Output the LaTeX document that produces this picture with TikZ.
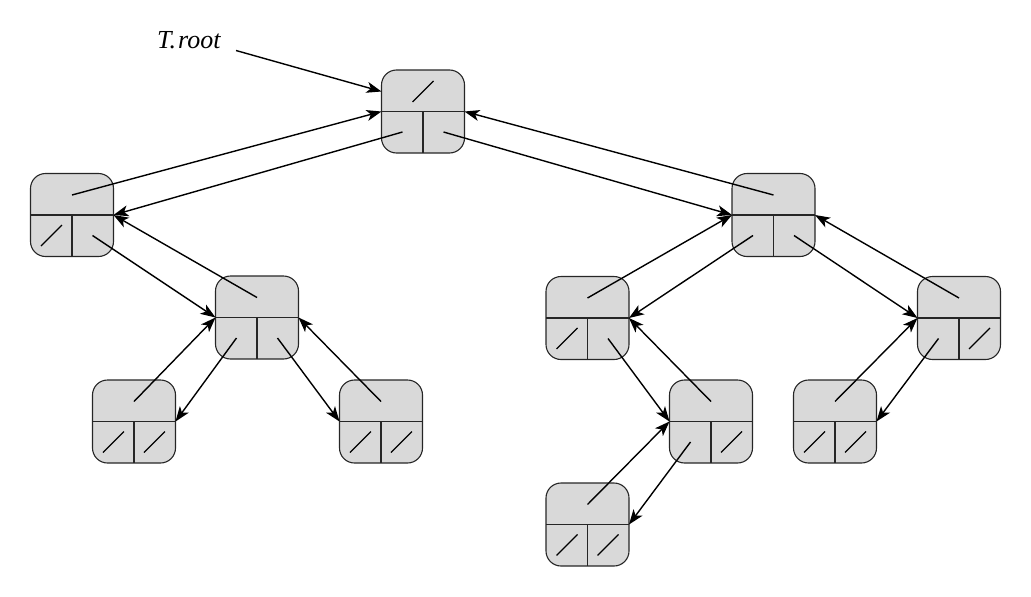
\documentclass[tikz,border=0pt]{standalone}
\usepackage{fontspec}
\setmainfont{Liberation Serif}
\usetikzlibrary{arrows.meta,calc}
\tikzset{
  x=1pt,y=1pt,
  rec/.style={draw=black!85,line width=1.1pt,fill=black!15,rounded corners=15pt,minimum width=83pt,minimum height=83pt,inner sep=0pt,outer sep=0pt},
  ptr/.style={line width=1.4pt,-{Stealth[length=15pt,width=11pt,inset=4pt]}},
  divl/.style={line width=1.1pt,black!85},
  nilline/.style={line width=1.2pt}
}
\newcommand{\treenode}[3]{%
  \node[rec] (#1) at (#2,-#3) {};
  \draw[divl] (#1.west) -- (#1.east);
  \draw[divl] (#1.center) -- (#1.south);
  \coordinate (#1-p) at ($(#1.center)+(0,20)$);
  \coordinate (#1-l) at ($(#1.center)+(-20.5,-20.5)$);
  \coordinate (#1-r) at ($(#1.center)+(20.5,-20.5)$);
}
\newcommand{\nilat}[1]{\draw[nilline] ($(#1)+(-10.5,-10.5)$) -- ($(#1)+(10.5,10.5)$);}
\begin{document}
\begin{tikzpicture}
\useasboundingbox (0,0) rectangle (1031,-597);
\treenode{root}{423}{111.5}
\treenode{A}{72}{215}
\treenode{E}{773.5}{215}
\treenode{B}{257}{317.5}
\treenode{H}{587.5}{318}
\treenode{F}{959}{318}
\treenode{C}{134}{421.5}
\treenode{D}{381}{421.5}
\treenode{I}{711}{421.5}
\treenode{G}{835}{421.5}
\treenode{J}{587.5}{524.5}
% nil pointers
\nilat{root-p}
\nilat{A-l}
\nilat{C-l}\nilat{C-r}
\nilat{D-l}\nilat{D-r}
\nilat{H-l}
\nilat{I-r}
\nilat{J-l}\nilat{J-r}
\nilat{F-r}
\nilat{G-l}\nilat{G-r}
% T.root
\node[anchor=base west,inner sep=0pt,font=\fontsize{26}{30}\selectfont\itshape] (troot) at (157,-48) {T.\kern2pt root};
\coordinate (troot-end) at (236,-50.5);
\draw[ptr] (troot-end) -- (root.west |- root-p);
% edges
\draw[ptr] (A-p) -- (root.west);
\draw[ptr] (root-l) -- (A.east);
\draw[ptr] (root-r) -- (E.west);
\draw[ptr] (E-p) -- (root.east);
\draw[ptr] (A-r) -- (B.west);
\draw[ptr] (B-p) -- (A.east);
\draw[ptr] (B-l) -- (C.east);
\draw[ptr] (C-p) -- (B.west);
\draw[ptr] (B-r) -- (D.west);
\draw[ptr] (D-p) -- (B.east);
\draw[ptr] (E-l) -- (H.east);
\draw[ptr] (H-p) -- (E.west);
\draw[ptr] (E-r) -- (F.west);
\draw[ptr] (F-p) -- (E.east);
\draw[ptr] (H-r) -- (I.west);
\draw[ptr] (I-p) -- (H.east);
\draw[ptr] (I-l) -- (J.east);
\draw[ptr] (J-p) -- (I.west);
\draw[ptr] (F-l) -- (G.east);
\draw[ptr] (G-p) -- (F.west);
\end{tikzpicture}
\end{document}
